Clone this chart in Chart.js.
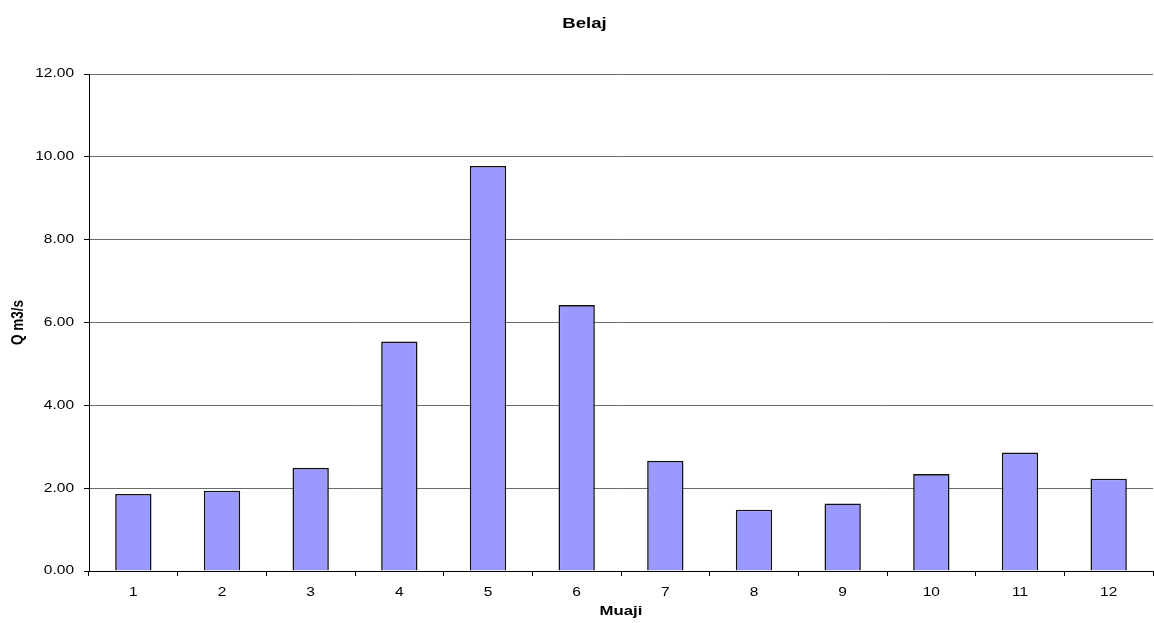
<!DOCTYPE html>
<html>
<head>
<meta charset="utf-8">
<script src="https://cdn.jsdelivr.net/npm/chart.js@4/dist/chart.umd.min.js"></script>
<style>
html,body{margin:0;padding:0;background:#fff;}
#wrap{width:1154px;height:623px;position:relative;}
</style>
</head>
<body>
<div id="wrap"><canvas id="c" width="1154" height="623"></canvas></div>
<script>
const categories = ['1','2','3','4','5','6','7','8','9','10','11','12'];
const flowValues = [1.86, 1.94, 2.49, 5.54, 9.78, 6.42, 2.66, 1.48, 1.63, 2.34, 2.86, 2.23];
const yTickValues = [0, 2, 4, 6, 8, 10, 12];
const chartTitle = 'Belaj';
const xTitle = 'Muaji';
const yTitle = 'Q m3/s';

// The reference text is stretched horizontally; emulate in device space.
const SX = 1.24;
const origFill = CanvasRenderingContext2D.prototype.fillText;
CanvasRenderingContext2D.prototype.fillText = function(text, x, y, maxWidth) {
  const t = this.getTransform();
  const p = t.transformPoint(new DOMPoint(x, y));
  this.save();
  const lin = new DOMMatrix([t.a, t.b, t.c, t.d, 0, 0]);
  this.setTransform(new DOMMatrix().translate(p.x, p.y).scale(SX, 1).multiply(lin));
  origFill.call(this, text, 0, 0);
  this.restore();
};

const FONT = "'Liberation Sans', Arial, sans-serif";

new Chart(document.getElementById('c'), {
  type: 'bar',
  data: {
    labels: categories,
    datasets: [{
      data: flowValues,
      backgroundColor: '#9999FF',
      borderColor: '#111111',
      borderWidth: 1.6,
      categoryPercentage: 0.82,
      barPercentage: 0.5
    }]
  },
  options: {
    responsive: false,
    animation: false,
    devicePixelRatio: 1,
    layout: { padding: { left: 16, right: 1, top: 0, bottom: 0 } },
    plugins: {
      legend: { display: false },
      tooltip: { enabled: false },
      title: {
        display: true,
        text: chartTitle,
        color: '#000',
        font: { family: FONT, size: 15, weight: 'bold', lineHeight: 1.2 },
        padding: { top: 15, bottom: 41 }
      }
    },
    scales: {
      x: {
        grid: {
          offset: true,
          drawOnChartArea: false,
          drawTicks: true,
          tickLength: 5,
          tickColor: '#000',
          color: '#000'
        },
        border: { color: '#000', width: 1 },
        ticks: {
          color: '#000',
          font: { family: FONT, size: 12.5 },
          padding: 9,
          maxRotation: 0,
          autoSkip: false
        },
        title: {
          display: true,
          text: xTitle,
          color: '#000',
          font: { family: FONT, size: 13.5, weight: 'bold', lineHeight: 1.2 },
          padding: { top: 0, bottom: 4 }
        },
        afterFit: s => { s.height = 52; }
      },
      y: {
        min: 0,
        max: 12,
        afterBuildTicks: s => { s.ticks = yTickValues.map(v => ({ value: v })); },
        grid: {
          color: '#6a6a6a',
          lineWidth: 1,
          tickLength: 5,
          tickColor: '#000',
          drawTicks: true
        },
        border: { color: '#000', width: 1 },
        ticks: {
          color: '#000',
          font: { family: FONT, size: 12.5 },
          padding: 10,
          callback: v => Number(v).toFixed(2)
        },
        title: {
          display: true,
          text: yTitle,
          color: '#000',
          font: { family: FONT, size: 13.5, weight: 'bold', lineHeight: 1.2 },
          padding: { top: -6, bottom: 0 }
        },
        afterFit: s => { s.width = 73; }
      }
    }
  }
});
</script>
</body>
</html>
